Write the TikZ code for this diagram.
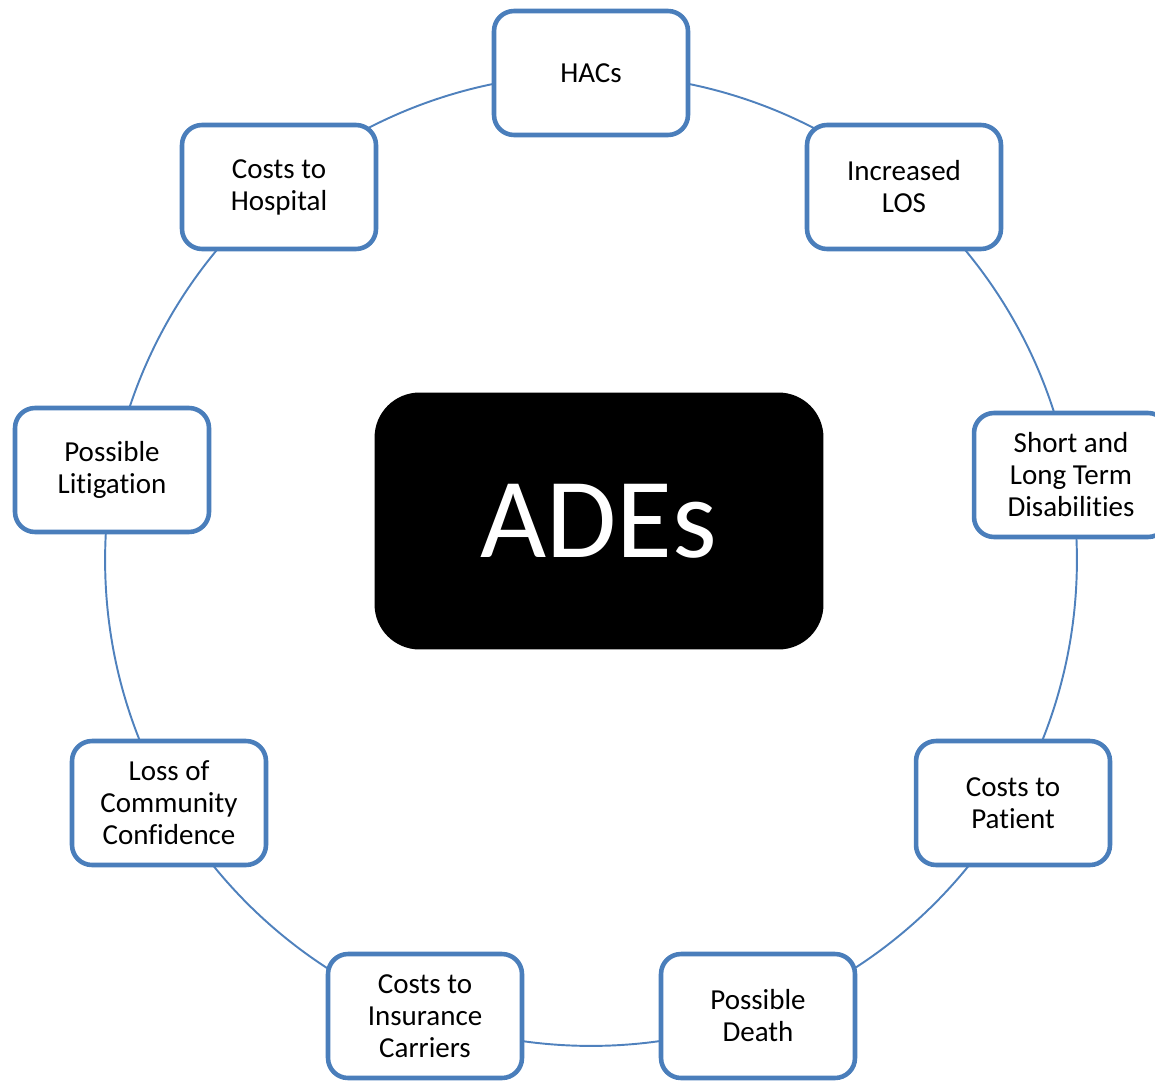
\documentclass[tikz,border=0pt]{standalone}
\usepackage{fontspec}
\setmainfont{Carlito}[RawFeature={-liga;-clig;-calt;-dlig;-rlig}]
\definecolor{boxblue}{HTML}{4A7EBB}
\definecolor{ringblue}{HTML}{4F81BD}
\tikzset{
  effect/.style={draw=boxblue, line width=2.6pt, fill=white, rounded corners=0.4cm,
    minimum width=3.88cm, minimum height=2.48cm, align=center,
    font=\fontsize{16.5}{18.2}\selectfont},
  core/.style={fill=black, rounded corners=0.9cm, minimum width=8.98cm,
    minimum height=5.14cm, text=white, font=\fontsize{65}{70}\selectfont},
}
\begin{document}
\begin{tikzpicture}[x=0.02cm, y=-0.02cm]
            \useasboundingbox (0, 0) rectangle (1155, 1081);
            \coordinate (c) at (591, 560);
            \draw[ringblue, line width=1.1pt] (c) circle[radius=9.72cm];

            \node[core] (ades) at (599, 521) {ADEs};

            \node[effect] (hacs) at (591, 73) {HACs};
            \node[effect] (los) at (904, 187) {Increased\\LOS};
            \node[effect] (disab) at (1071, 475) {Short and\\Long Term\\Disabilities};
            \node[effect] (patient) at (1013, 803) {Costs to\\Patient};
            \node[effect] (death) at (758, 1016) {Possible\\Death};
            \node[effect] (insur) at (425, 1016) {Costs to\\Insurance\\Carriers};
            \node[effect] (commun) at (169, 803) {Loss of\\Community\\Confidence};
            \node[effect] (litig) at (112, 470) {Possible\\Litigation};
            \node[effect] (hosp) at (279, 187) {Costs to\\Hospital};
        \end{tikzpicture}
\end{document}
